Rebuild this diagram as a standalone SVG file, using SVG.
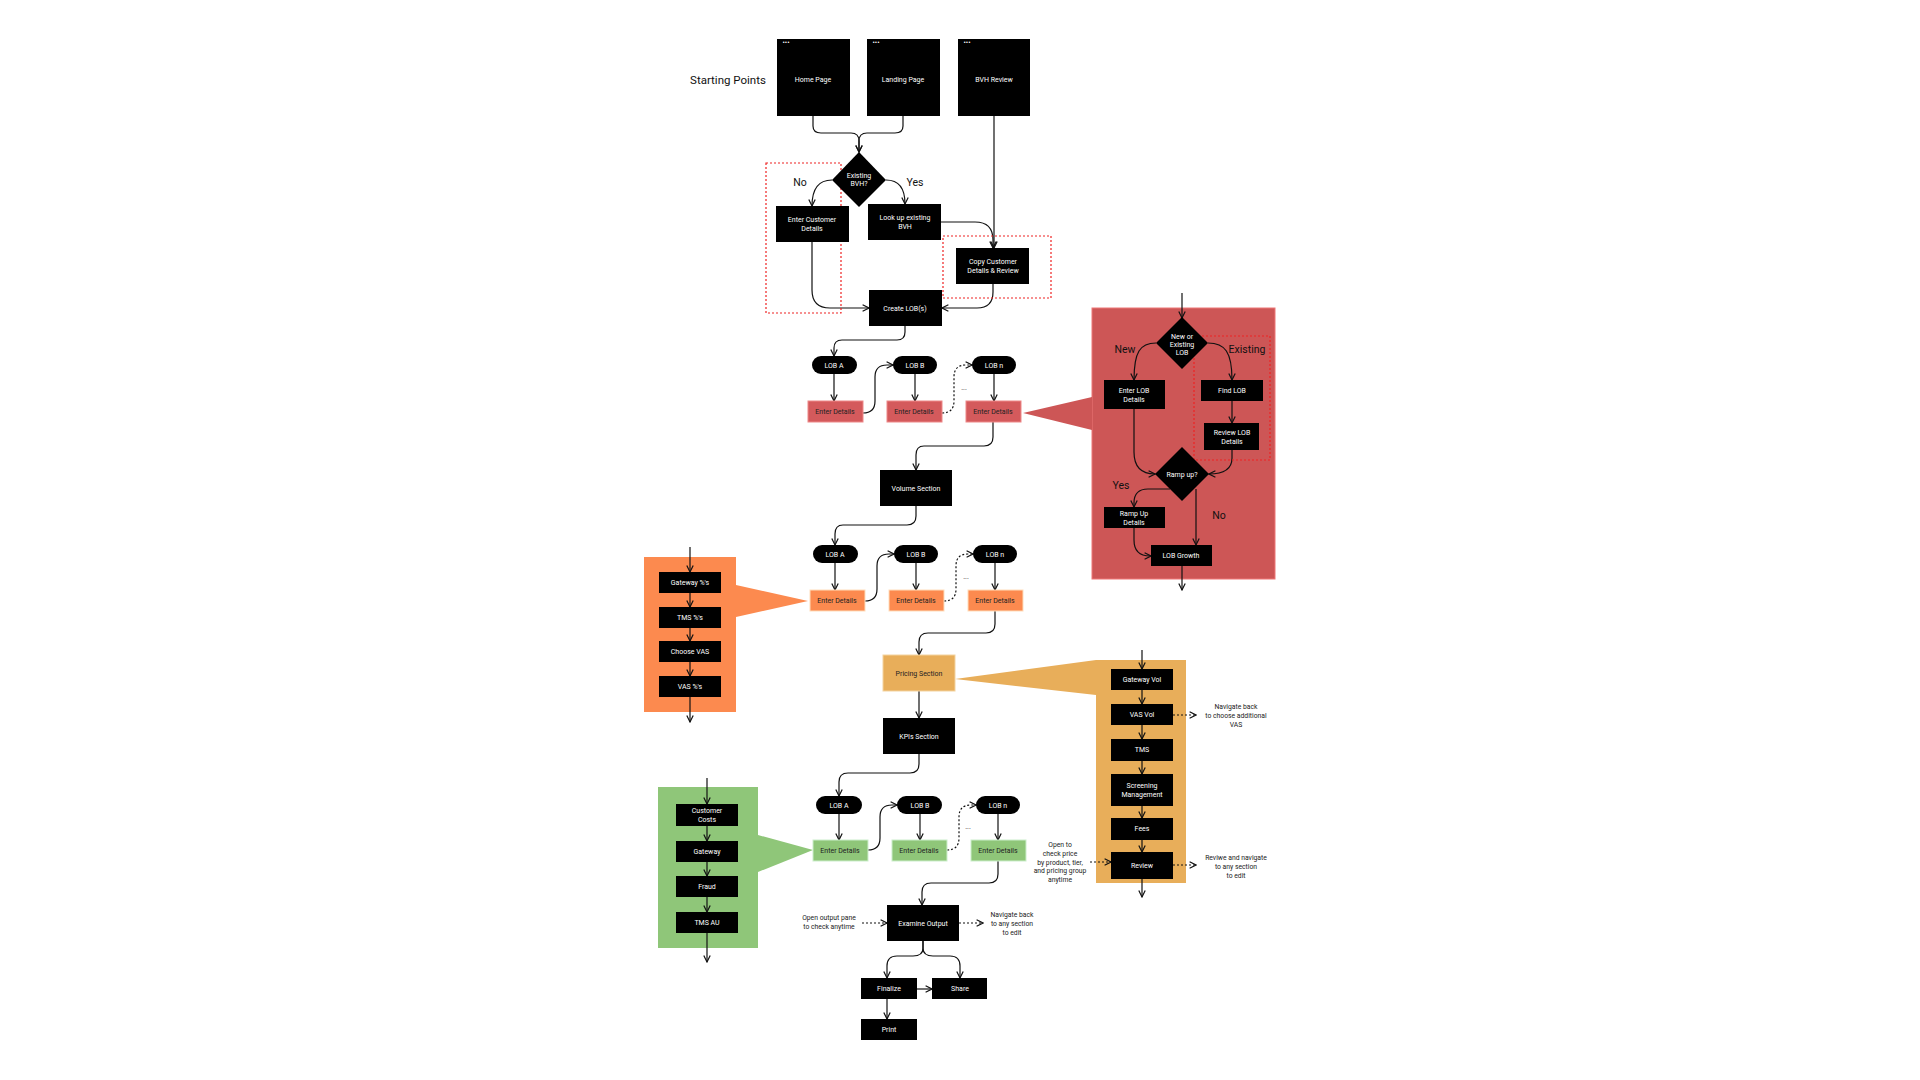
<svg xmlns="http://www.w3.org/2000/svg" width="1920" height="1080" viewBox="0 0 1920 1080">
<style>
text{font-family:Roboto,"Liberation Sans",sans-serif;text-anchor:middle}
.b{fill:#000}
.w{fill:#fff;font-size:7px}
.d{fill:#222;font-size:7px}
.lbl{fill:#111;font-size:10.5px}
.n{fill:#222;font-size:6.8px}
.c{fill:none;stroke:#111;stroke-width:1.2;marker-end:url(#a)}
.dot{fill:none;stroke:#111;stroke-width:1.2;stroke-dasharray:2 2;marker-end:url(#a)}
.rd{fill:none;stroke:#e22;stroke-width:1.2;stroke-dasharray:2 2}
.er{fill:#D45A5C;stroke:#e88}
.eo{fill:#FC8A4F;stroke:#fdb}
.eg{fill:#8FC679;stroke:#cec}
</style>
<defs>
<marker id="a" viewBox="0 0 10 10" refX="9" refY="5" markerWidth="8" markerHeight="8" markerUnits="userSpaceOnUse" orient="auto">
<path d="M1,1 L9,5 L1,9" fill="none" stroke="#111" stroke-width="1.5"/>
</marker>
</defs>
<rect width="1920" height="1080" fill="#fff"/>

<text x="728" y="84" style="font-size:11.5px;fill:#111">Starting Points</text>

<!-- panels -->
<g id="redPanel">
<rect x="1092" y="308" width="183" height="271" fill="#CD5656" stroke="#e77"/>
<polygon points="1023,413 1092,397 1092,430" fill="#CD5656"/>
</g>
<g id="orangePanel">
<rect x="644" y="557" width="92" height="155" fill="#FC8A4F"/>
<polygon points="736,585 808,601 736,617" fill="#FC8A4F"/>
</g>
<g id="yellowPanel">
<rect x="1096" y="660" width="90" height="223" fill="#E8AE5A"/>
<polygon points="955,679 1096,660 1096,695" fill="#E8AE5A"/>
</g>
<g id="greenPanel">
<rect x="658" y="787" width="100" height="161" fill="#8FC679"/>
<polygon points="758,835 813,850 758,872" fill="#8FC679"/>
</g>

<g id="connectors">
<path class="c" d="M813,116 V126 Q813,133 821,133 H851 Q859,133 859,141 V152"/>
<path class="c" d="M903,116 V126 Q903,133 895,133 H867 Q859,133 859,141 V152"/>
<path class="c" d="M832,180 C818,180 812,190 812,206"/>
<path class="c" d="M886,180 C900,180 905,190 905,204"/>
<path class="c" d="M941,222 H975 Q993,222 993,240 V248"/>
<path class="c" d="M994,116 V248"/>
<path class="c" d="M812,242 V290 Q812,308 830,308 H869"/>
<path class="c" d="M993,284 V292 Q993,308 977,308 H942"/>
<path class="c" d="M905,326 V332 Q905,340 897,340 H842 Q834,340 834,348 V356"/>
<path class="c" d="M834,374 V401"/><path class="c" d="M915,374 V401"/><path class="c" d="M994,374 V401"/>
<path class="c" d="M863,413 Q875,413 875,401 V377 Q875,365 887,365 H893"/>
<path class="dot" d="M942,413 Q954,413 954,401 V377 Q954,365 966,365 H972"/>
<path class="c" d="M993,422 V437 Q993,446 984,446 H924 Q916,446 916,455 V470"/>
<path class="c" d="M916,506 V516 Q916,525 907,525 H843 Q835,525 835,534 V545"/>
<path class="c" d="M835,563 V590"/><path class="c" d="M916,563 V590"/><path class="c" d="M995,563 V590"/>
<path class="c" d="M865,601 Q877,601 877,589 V566 Q877,554 889,554 H894"/>
<path class="dot" d="M944,601 Q956,601 956,589 V566 Q956,554 968,554 H973"/>
<path class="c" d="M995,611 V624 Q995,633 986,633 H928 Q919,633 919,642 V655"/>
<path class="c" d="M919,691 V718"/>
<path class="c" d="M919,754 V764 Q919,773 910,773 H848 Q839,773 839,782 V796"/>
<path class="c" d="M839,814 V840"/><path class="c" d="M920,814 V840"/><path class="c" d="M998,814 V840"/>
<path class="c" d="M868,850 Q880,850 880,838 V817 Q880,805 892,805 H897"/>
<path class="dot" d="M947,850 Q959,850 959,838 V817 Q959,805 971,805 H976"/>
<path class="c" d="M998,861 V874 Q998,883 989,883 H931 Q922,883 922,892 V905"/>
<path class="c" d="M923,941 V948 Q923,956 913,956 H897 Q887,956 887,966 V978"/>
<path class="c" d="M923,941 V948 Q923,956 933,956 H950 Q960,956 960,966 V978"/>
<path class="c" d="M917,989 H932"/>
<path class="c" d="M887,999 V1019"/>
<path class="dot" d="M862,923 H887"/>
<path class="dot" d="M959,923 H983"/>
<!-- orange panel -->
<path class="c" d="M690,547 V572"/><path class="c" d="M690,593 V607"/><path class="c" d="M690,628 V641"/><path class="c" d="M690,662 V676"/><path class="c" d="M690,697 V722"/>
<!-- yellow panel -->
<path class="c" d="M1142,650 V669"/><path class="c" d="M1142,690 V704"/><path class="c" d="M1142,725 V739"/><path class="c" d="M1142,761 V774"/><path class="c" d="M1142,806 V818"/><path class="c" d="M1142,840 V852"/><path class="c" d="M1142,879 V897"/>
<path class="dot" d="M1173,715 H1196"/><path class="dot" d="M1173,865 H1196"/><path class="dot" d="M1090,862 H1111"/>
<!-- green panel -->
<path class="c" d="M707,778 V804"/><path class="c" d="M707,826 V841"/><path class="c" d="M707,862 V876"/><path class="c" d="M707,897 V912"/><path class="c" d="M707,933 V962"/>
<!-- red panel -->
<path class="c" d="M1182,293 V318"/>
<path class="c" d="M1156,343 C1140,343 1134,352 1134,380"/>
<path class="c" d="M1208,343 C1225,343 1232,352 1232,380"/>
<path class="c" d="M1232,401 V423"/>
<path class="c" d="M1134,409 V452 Q1134,474 1155,474"/>
<path class="c" d="M1232,450 V458 Q1232,474 1209,474"/>
<path class="c" d="M1170,489 H1148 Q1134,489 1134,503 V507"/>
<path class="c" d="M1196,489 V545"/>
<path class="c" d="M1134,528 V540 Q1134,556 1150,556 H1151"/>
<path class="c" d="M1182,566 V590"/>
</g>

<g id="dotted-groups">
<rect class="rd" x="766" y="163" width="75" height="150"/>
<rect class="rd" x="943" y="236" width="108" height="62"/>
<rect class="rd" x="1194" y="336" width="76" height="124"/>
</g>

<g id="home"><rect class="b" x="777" y="39" width="73" height="77"/><text class="w" x="813" y="82">Home Page</text><text x="786" y="45" style="fill:#fff;font-size:7px">•••</text></g>
<g id="landing"><rect class="b" x="867" y="39" width="73" height="77"/><text class="w" x="903" y="82">Landing Page</text><text x="876" y="45" style="fill:#fff;font-size:7px">•••</text></g>
<g id="bvhReview"><rect class="b" x="958" y="39" width="72" height="77"/><text class="w" x="994" y="82">BVH Review</text><text x="967" y="45" style="fill:#fff;font-size:7px">•••</text></g>

<g id="existingBVH"><polygon class="b" points="859,152 886,180 859,207 832,180"/><text class="w" x="859" y="178">Existing</text><text class="w" x="859" y="186">BVH?</text></g>
<text class="lbl" x="800" y="186">No</text>
<text class="lbl" x="915" y="186">Yes</text>

<g id="enterCust"><rect class="b" x="776" y="206" width="73" height="36"/><text class="w" x="812" y="222">Enter Customer</text><text class="w" x="812" y="231">Details</text></g>
<g id="lookup"><rect class="b" x="868" y="204" width="73" height="36"/><text class="w" x="905" y="220">Look up existing</text><text class="w" x="905" y="229">BVH</text></g>
<g id="copyCust"><rect class="b" x="956" y="248" width="73" height="36"/><text class="w" x="993" y="264">Copy Customer</text><text class="w" x="993" y="273">Details &amp; Review</text></g>
<g id="createLOB"><rect class="b" x="869" y="290" width="73" height="36"/><text class="w" x="905" y="311">Create LOB(s)</text></g>

<g id="lobA1"><rect class="b" x="812" y="356" width="45" height="18" rx="9"/><text class="w" x="834" y="368">LOB A</text></g>
<g id="lobB1"><rect class="b" x="893" y="356" width="44" height="18" rx="9"/><text class="w" x="915" y="368">LOB B</text></g>
<g id="lobN1"><rect class="b" x="972" y="356" width="44" height="18" rx="9"/><text class="w" x="994" y="368">LOB n</text></g>
<g id="ed1a"><rect class="er" x="808" y="401" width="55" height="21"/><text class="d" x="835" y="414">Enter Details</text></g>
<g id="ed1b"><rect class="er" x="887" y="401" width="55" height="21"/><text class="d" x="914" y="414">Enter Details</text></g>
<g id="ed1n"><rect class="er" x="966" y="401" width="55" height="21"/><text class="d" x="993" y="414">Enter Details</text></g>
<text class="d" x="964" y="390">...</text>

<g id="volume"><rect class="b" x="880" y="470" width="72" height="36"/><text class="w" x="916" y="491">Volume Section</text></g>

<g id="lobA2"><rect class="b" x="813" y="545" width="45" height="18" rx="9"/><text class="w" x="835" y="557">LOB A</text></g>
<g id="lobB2"><rect class="b" x="894" y="545" width="44" height="18" rx="9"/><text class="w" x="916" y="557">LOB B</text></g>
<g id="lobN2"><rect class="b" x="973" y="545" width="44" height="18" rx="9"/><text class="w" x="995" y="557">LOB n</text></g>
<g id="ed2a"><rect class="eo" x="810" y="590" width="55" height="21"/><text class="d" x="837" y="603">Enter Details</text></g>
<g id="ed2b"><rect class="eo" x="889" y="590" width="55" height="21"/><text class="d" x="916" y="603">Enter Details</text></g>
<g id="ed2n"><rect class="eo" x="968" y="590" width="55" height="21"/><text class="d" x="995" y="603">Enter Details</text></g>
<text class="d" x="966" y="579">...</text>

<g id="pricing"><rect x="883" y="655" width="72" height="36" fill="#E8AE5A" stroke="#f3d3a0"/><text class="d" x="919" y="676">Pricing Section</text></g>
<g id="kpis"><rect class="b" x="883" y="718" width="72" height="36"/><text class="w" x="919" y="739">KPIs Section</text></g>

<g id="lobA3"><rect class="b" x="816" y="796" width="46" height="18" rx="9"/><text class="w" x="839" y="808">LOB A</text></g>
<g id="lobB3"><rect class="b" x="897" y="796" width="45" height="18" rx="9"/><text class="w" x="920" y="808">LOB B</text></g>
<g id="lobN3"><rect class="b" x="976" y="796" width="44" height="18" rx="9"/><text class="w" x="998" y="808">LOB n</text></g>
<g id="ed3a"><rect class="eg" x="813" y="840" width="55" height="21"/><text class="d" x="840" y="853">Enter Details</text></g>
<g id="ed3b"><rect class="eg" x="892" y="840" width="55" height="21"/><text class="d" x="919" y="853">Enter Details</text></g>
<g id="ed3n"><rect class="eg" x="971" y="840" width="55" height="21"/><text class="d" x="998" y="853">Enter Details</text></g>
<text class="d" x="968" y="829">...</text>

<g id="examine"><rect class="b" x="887" y="905" width="72" height="36"/><text class="w" x="923" y="926">Examine Output</text></g>
<text class="n" x="829" y="920">Open output pane</text><text class="n" x="829" y="929">to check anytime</text>
<text class="n" x="1012" y="917">Navigate back</text><text class="n" x="1012" y="926">to any section</text><text class="n" x="1012" y="935">to edit</text>
<g id="finalize"><rect class="b" x="861" y="978" width="56" height="21"/><text class="w" x="889" y="991">Finalize</text></g>
<g id="share"><rect class="b" x="932" y="978" width="55" height="21"/><text class="w" x="960" y="991">Share</text></g>
<g id="print"><rect class="b" x="861" y="1019" width="56" height="21"/><text class="w" x="889" y="1032">Print</text></g>

<!-- orange panel boxes -->
<g id="gwPct"><rect class="b" x="659" y="572" width="62" height="21"/><text class="w" x="690" y="585">Gateway %'s</text></g>
<g id="tmsPct"><rect class="b" x="659" y="607" width="62" height="21"/><text class="w" x="690" y="620">TMS %'s</text></g>
<g id="chooseVAS"><rect class="b" x="659" y="641" width="62" height="21"/><text class="w" x="690" y="654">Choose VAS</text></g>
<g id="vasPct"><rect class="b" x="659" y="676" width="62" height="21"/><text class="w" x="690" y="689">VAS %'s</text></g>

<!-- yellow panel boxes -->
<g id="gwVol"><rect class="b" x="1111" y="669" width="62" height="21"/><text class="w" x="1142" y="682">Gateway Vol</text></g>
<g id="vasVol"><rect class="b" x="1111" y="704" width="62" height="21"/><text class="w" x="1142" y="717">VAS Vol</text></g>
<g id="tms"><rect class="b" x="1111" y="739" width="62" height="22"/><text class="w" x="1142" y="752">TMS</text></g>
<g id="screening"><rect class="b" x="1111" y="774" width="62" height="32"/><text class="w" x="1142" y="788">Screening</text><text class="w" x="1142" y="797">Management</text></g>
<g id="fees"><rect class="b" x="1111" y="818" width="62" height="22"/><text class="w" x="1142" y="831">Fees</text></g>
<g id="review"><rect class="b" x="1111" y="852" width="62" height="27"/><text class="w" x="1142" y="868">Review</text></g>
<text class="n" x="1236" y="709">Navigate back</text><text class="n" x="1236" y="718">to choose additional</text><text class="n" x="1236" y="727">VAS</text>
<text class="n" x="1236" y="860">Reviwe and navigate</text><text class="n" x="1236" y="869">to any section</text><text class="n" x="1236" y="878">to edit</text>
<text class="n" x="1060" y="847">Open to</text><text class="n" x="1060" y="856">check price</text><text class="n" x="1060" y="865">by product, tier,</text><text class="n" x="1060" y="873">and pricing group</text><text class="n" x="1060" y="882">anytime</text>

<!-- green panel boxes -->
<g id="custCosts"><rect class="b" x="676" y="804" width="62" height="22"/><text class="w" x="707" y="813">Customer</text><text class="w" x="707" y="822">Costs</text></g>
<g id="gateway"><rect class="b" x="676" y="841" width="62" height="21"/><text class="w" x="707" y="854">Gateway</text></g>
<g id="fraud"><rect class="b" x="676" y="876" width="62" height="21"/><text class="w" x="707" y="889">Fraud</text></g>
<g id="tmsAU"><rect class="b" x="676" y="912" width="62" height="21"/><text class="w" x="707" y="925">TMS AU</text></g>

<!-- red panel nodes -->
<g id="newOrExisting"><polygon class="b" points="1182,317 1208,343 1182,369 1156,343"/><text class="w" x="1182" y="339">New or</text><text class="w" x="1182" y="347">Existing</text><text class="w" x="1182" y="355">LOB</text></g>
<text class="lbl" x="1125" y="353">New</text>
<text class="lbl" x="1247" y="353">Existing</text>
<g id="enterLOB"><rect class="b" x="1104" y="380" width="61" height="29"/><text class="w" x="1134" y="393">Enter LOB</text><text class="w" x="1134" y="402">Details</text></g>
<g id="findLOB"><rect class="b" x="1201" y="380" width="62" height="21"/><text class="w" x="1232" y="393">Find LOB</text></g>
<g id="reviewLOB"><rect class="b" x="1204" y="423" width="55" height="27"/><text class="w" x="1232" y="435">Review LOB</text><text class="w" x="1232" y="444">Details</text></g>
<g id="rampUp"><polygon class="b" points="1182,447 1209,474 1182,501 1155,474"/><text class="w" x="1182" y="477">Ramp up?</text></g>
<text class="lbl" x="1121" y="489">Yes</text>
<text class="lbl" x="1219" y="519">No</text>
<g id="rampDetails"><rect class="b" x="1104" y="507" width="61" height="21"/><text class="w" x="1134" y="516">Ramp Up</text><text class="w" x="1134" y="525">Details</text></g>
<g id="lobGrowth"><rect class="b" x="1151" y="545" width="61" height="21"/><text class="w" x="1181" y="558">LOB Growth</text></g>
</svg>
